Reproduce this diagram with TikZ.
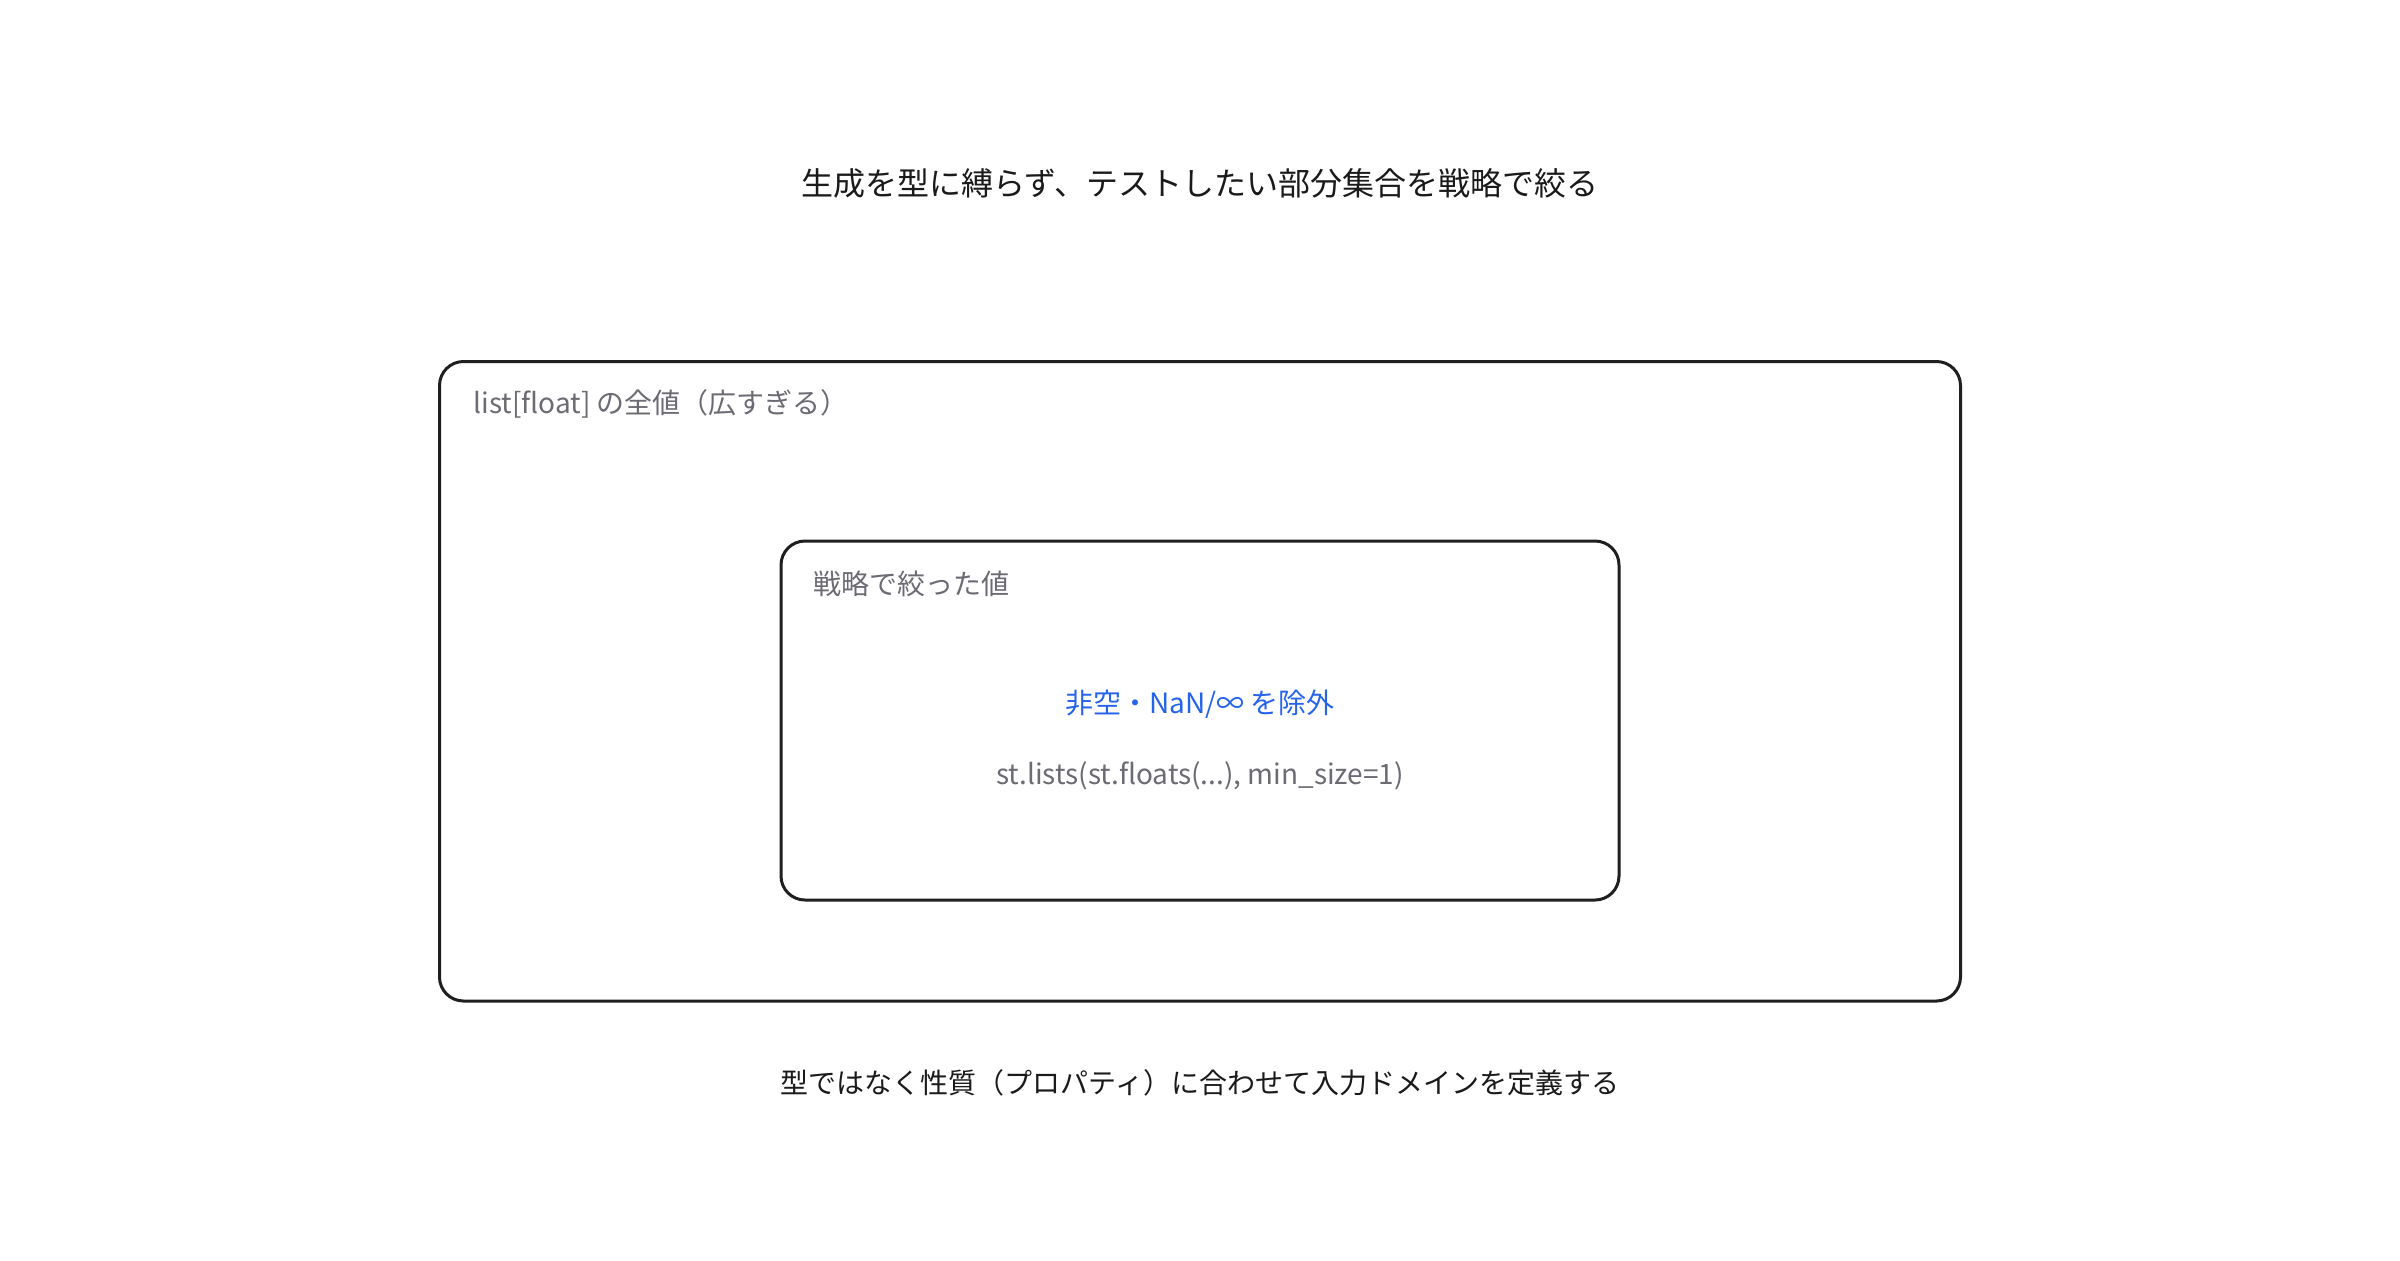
\documentclass[tikz,border=0pt]{standalone}
\usepackage{fontspec}
\setmainfont{Noto Sans CJK JP}
\definecolor{boxline}{HTML}{1F1F1F}
\definecolor{labelgray}{HTML}{6B6B73}
\definecolor{accentblue}{HTML}{2563EB}
\definecolor{titleblack}{HTML}{1A1A1A}
\begin{document}
\begin{tikzpicture}[x=0.5pt,y=-0.5pt,
  frame/.style={draw=boxline,line width=1.5pt,rounded corners=12pt},
  caption/.style={text=titleblack,inner sep=0pt,anchor=center},
  boxlabel/.style={text=labelgray,font=\fontsize{14}{17}\selectfont,inner sep=0pt,anchor=west},
  body/.style={inner sep=0pt,anchor=center,font=\fontsize{14}{17}\selectfont}]
\useasboundingbox[fill=white] (0,0) rectangle (2400,1260);
\node[caption,font=\fontsize{16}{19}\selectfont] (title) at (1200,183) {生成を型に縛らず、テストしたい部分集合を戦略で絞る};
\draw[frame] (439.5,361.5) rectangle (1960.5,1001) coordinate (outerse);
\node[boxlabel] (outerlabel) at (473,404) {list[float] の全値（広すぎる）};
\draw[frame] (781,541) rectangle (1619,900) coordinate (innerse);
\node[boxlabel] (innerlabel) at (813,584) {戦略で絞った値};
\node[body,text=accentblue] (cond) at (1200,704) {非空・NaN/∞ を除外};
\node[body,text=labelgray] (code) at (1200,776) {st.lists(st.floats(...), min\_size=1)};
\node[caption,font=\fontsize{14}{17}\selectfont] (foot) at (1200,1083) {型ではなく性質（プロパティ）に合わせて入力ドメインを定義する};
\end{tikzpicture}
\end{document}
